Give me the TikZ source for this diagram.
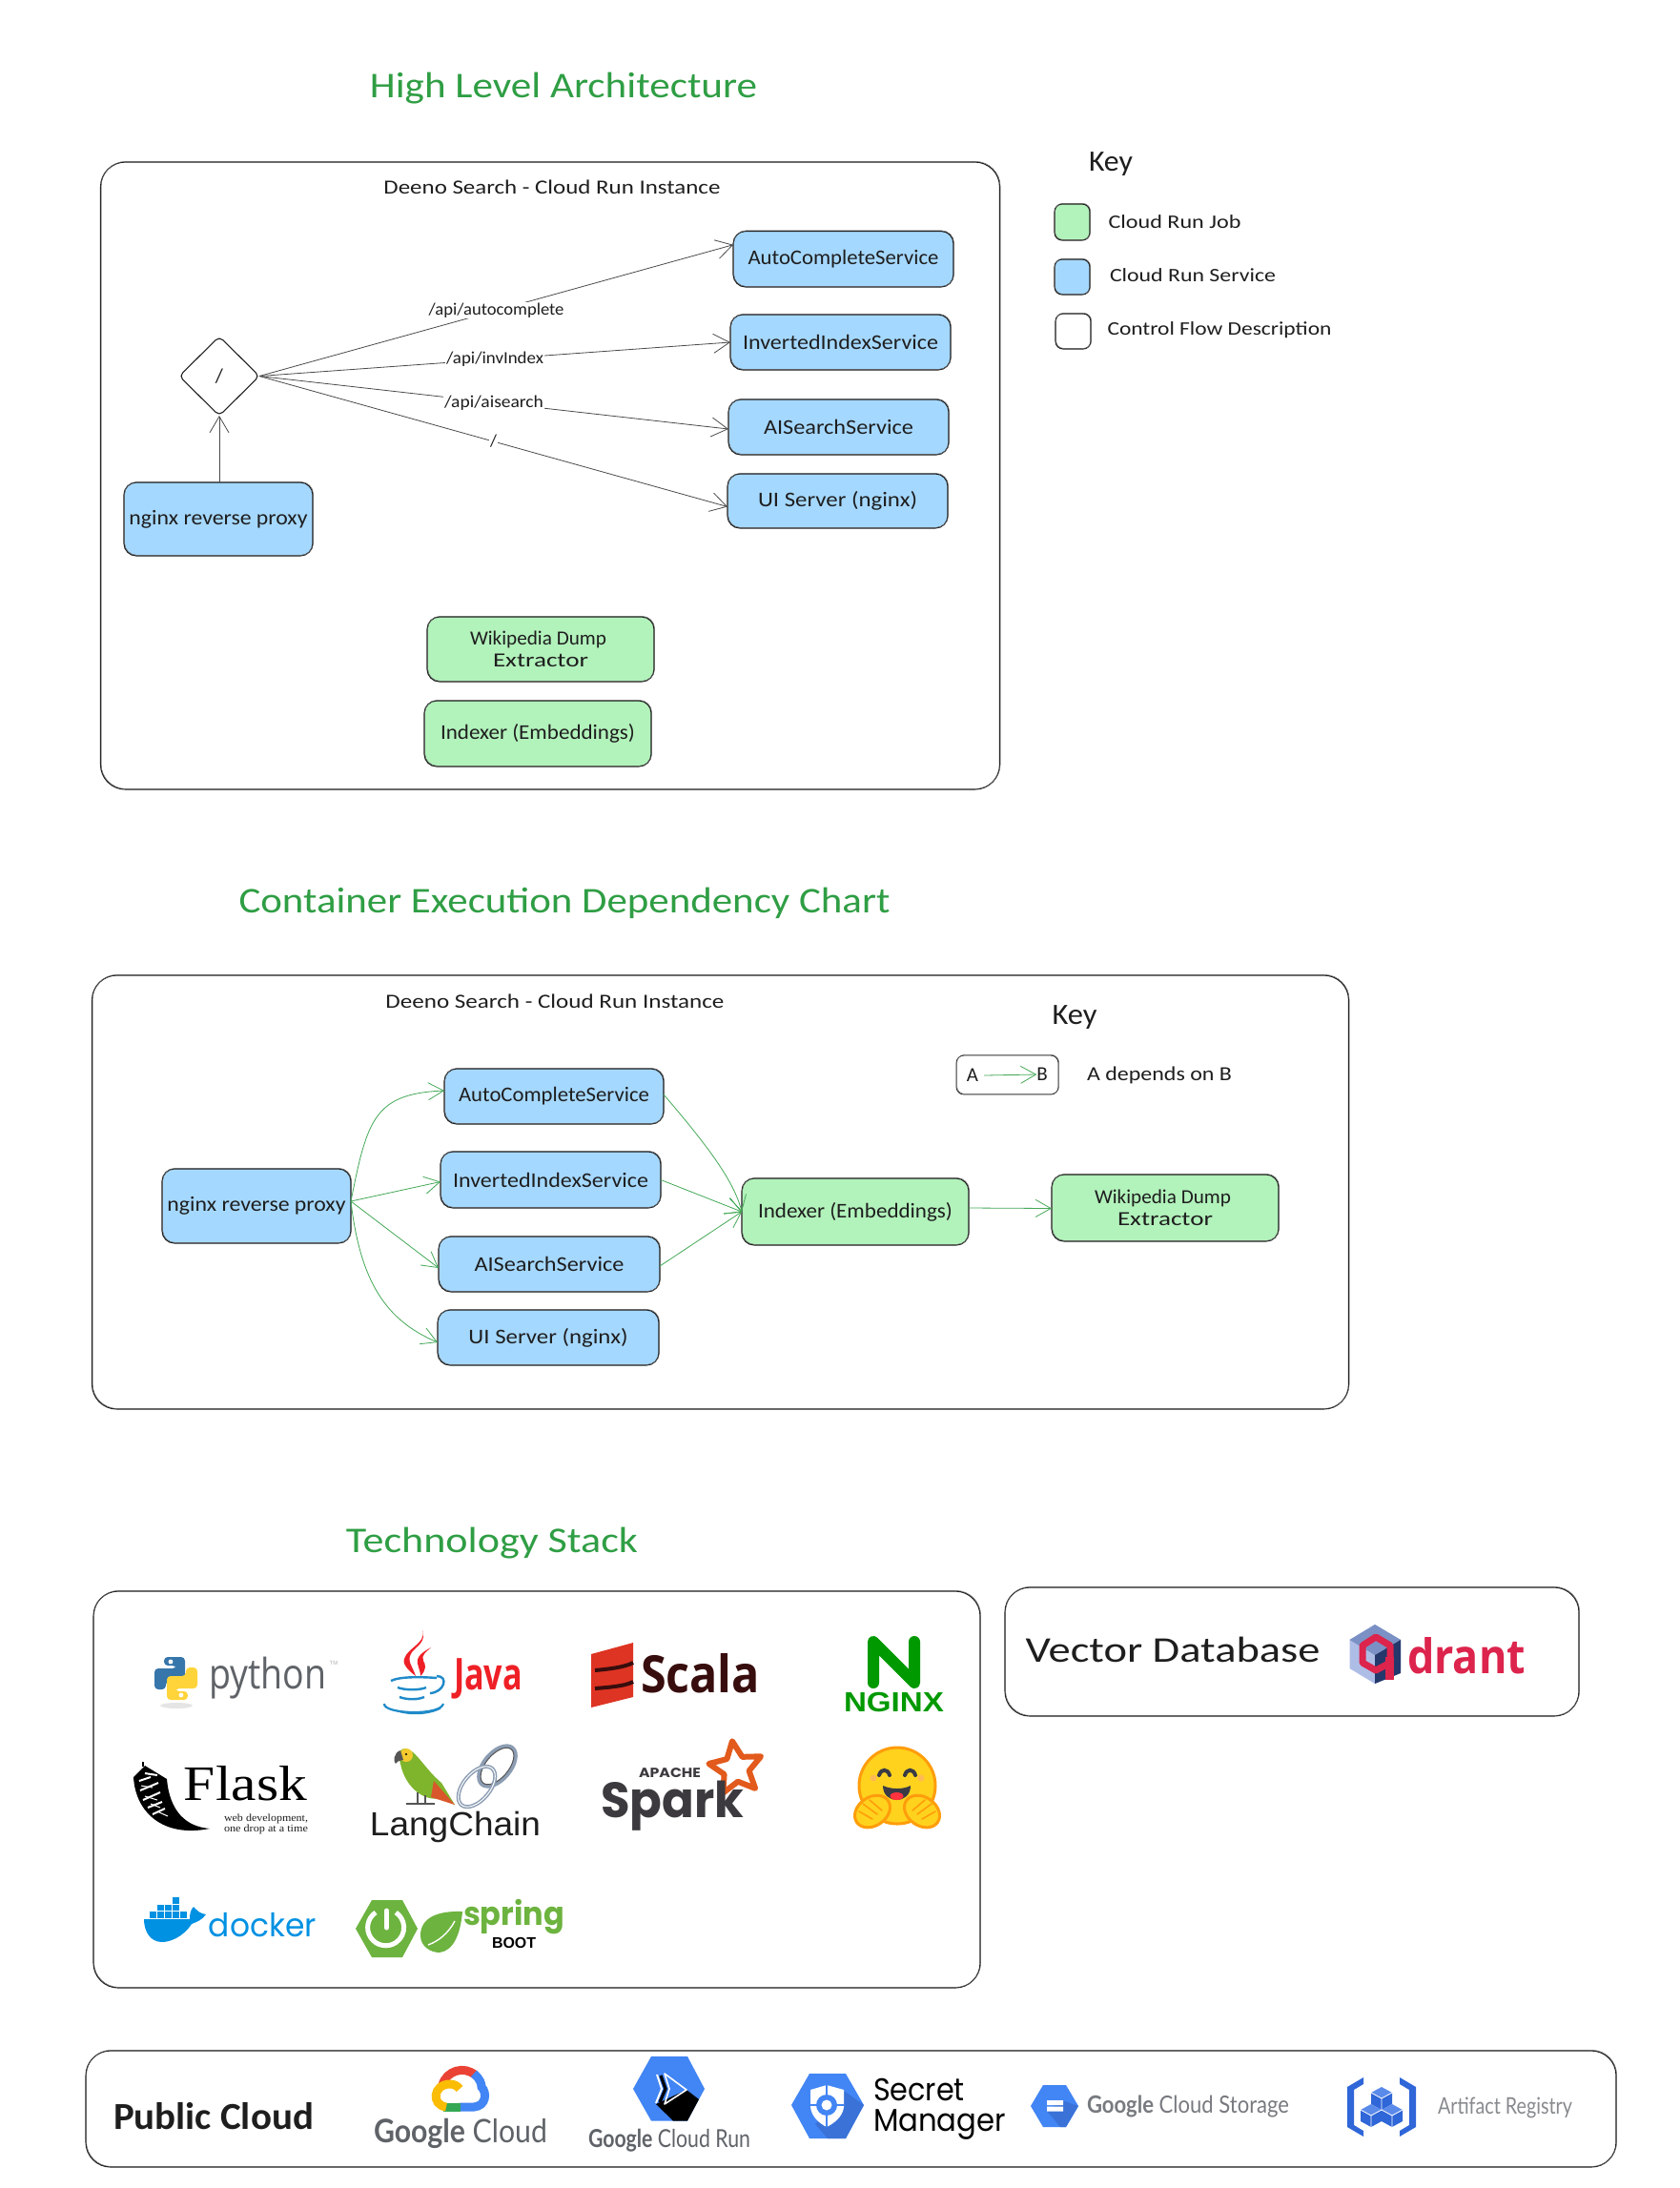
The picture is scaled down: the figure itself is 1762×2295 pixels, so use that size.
\documentclass[tikz,border=0pt]{standalone}
\usepackage{fontspec}
\usepackage{graphicx}
\usetikzlibrary{arrows.meta,shapes.geometric,calc}
\setmainfont{Carlito}
\newfontfamily\serifF{Liberation Serif}
\newfontfamily\popF{Poppins}
\newfontfamily\openF{Open Sans}
\newfontfamily\latoF{Lato}
\newfontfamily\sansF{Liberation Sans}
\definecolor{ink}{HTML}{1E1E1E}
\definecolor{svcblue}{HTML}{A5D8FF}
\definecolor{jobgreen}{HTML}{B2F2BB}
\definecolor{ttl}{HTML}{2F9E44}
\definecolor{gblue}{HTML}{4285F4}
\definecolor{gdark}{HTML}{3A72D8}
\definecolor{ggray}{HTML}{5F6368}
\definecolor{pyb}{HTML}{3776AB}
\definecolor{pyy}{HTML}{FFD43B}
\definecolor{jr}{HTML}{EE2026}
\definecolor{jb}{HTML}{1F8AC9}
\definecolor{sr}{HTML}{DE3423}
\definecolor{sd}{HTML}{380D0D}
\definecolor{ng}{HTML}{009900}
\definecolor{pg}{HTML}{7FB52C}
\definecolor{ptail}{HTML}{D9582B}
\definecolor{phead}{HTML}{F2C92E}
\definecolor{pdark}{HTML}{555555}
\definecolor{rg}{HTML}{8C9DB3}
\definecolor{sg}{HTML}{3C3A3E}
\definecolor{so}{HTML}{E25A1C}
\definecolor{hy}{HTML}{FFD21E}
\definecolor{ho}{HTML}{FF9D0B}
\definecolor{hd}{HTML}{3A3B45}
\definecolor{hr}{HTML}{FF323D}
\definecolor{dk}{HTML}{0091E2}
\definecolor{sp}{HTML}{6DB33F}
\definecolor{qlt}{HTML}{AEBDE6}
\definecolor{qmd}{HTML}{7B91C5}
\definecolor{qdk}{HTML}{24386C}
\definecolor{qrd}{HTML}{DC244C}
\definecolor{gr}{HTML}{EA4335}
\definecolor{gg}{HTML}{34A853}
\definecolor{gy}{HTML}{FBBC04}
\definecolor{ar}{HTML}{2F66D8}
\definecolor{arl}{HTML}{5B8BEA}
\newcommand\myfs[1]{\fontsize{#1}{#1}\selectfont}
\newcommand\tw[2]{\resizebox{#1pt}{\height}{#2}}
\newcommand\bx[7]{\pgfmathsetmacro\bxw{#4-(#2)}\pgfmathsetmacro\bxh{#5-(#3)}%
 \node[#6,minimum width=\bxw pt,minimum height=\bxh pt] (#1) at ({(#2+#4)/2},{(#3+#5)/2}) {#7};}
\newcommand\tx[6]{\node[txt] (#1) at (#2,#3) {#5\tw{#4}{#6}};}
\tikzset{
 txt/.style={inner sep=0,outer sep=0,text=ink,align=center},
 sk/.style={draw=ink,line width=1.1pt,inner sep=0,outer sep=0,align=center,text=ink,
   postaction={draw=ink!70,line width=.5pt,transform canvas={shift={(.6pt,.6pt)}}}},
 outerbox/.style={sk,rounded corners=26pt},
 svc/.style={sk,fill=svcblue,rounded corners=13pt},
 job/.style={sk,fill=jobgreen,rounded corners=13pt},
 swatch/.style={sk,rounded corners=8pt},
 gconn/.style={draw=ink!80,line width=.8pt,-{Straight Barb[length=17pt,width=20pt,line width=.8pt]}},
 tconn/.style={draw=ttl!90,line width=.8pt,-{Straight Barb[length=16pt,width=18pt,line width=.8pt]}},
 lab/.style={fill=white,inner sep=1pt,text=ink},
}
\begin{document}
\begin{tikzpicture}[x=1pt,y=-1pt]
\useasboundingbox (0,0) rectangle (1762,2295);
\fill[white] (0,0) rectangle (1762,2295);
% ---------- High level architecture
\node[txt,text=ttl] (t1) at (591,92.5) {\myfs{38}\tw{406}{High Level Architecture}};
\bx{outer1}{105.5}{170}{1048.5}{828}{outerbox}{}
\tx{dn1}{579}{196}{353}{\myfs{21}}{Deeno Search - Cloud Run Instance}
\bx{a1}{769}{242.5}{1000}{301}{svc}{\myfs{22}\tw{200}{AutoCompleteService}}
\bx{a2}{766}{330}{997}{388}{svc}{\myfs{22}\tw{205}{InvertedIndexService}}
\bx{a3}{764}{419}{995}{477}{svc}{\myfs{22}\tw{157}{AISearchService}}
\bx{a4}{763}{497}{994}{554}{svc}{\myfs{22}\tw{167}{UI Server (nginx)}}
\bx{n1}{130}{506}{328}{583}{svc}{\myfs{22}\tw{187}{nginx reverse proxy}}
\node[draw=ink,line width=1.1pt,diamond,aspect=1,inner sep=0,outer sep=0,minimum width=84pt,minimum height=83pt,rounded corners=5pt,text=ink] (dia) at (230,394.5) {\myfs{21}/};
\bx{w1}{448}{647}{686}{715}{job}{\myfs{21}\hspace{-5pt}\tw{143}{Wikipedia Dump}\\[5pt]\myfs{21}\tw{100}{Extractor}}
\bx{x1}{445}{735}{683}{804}{job}{\myfs{22}\tw{204}{Indexer (Embeddings)}}
\draw[gconn] (n1.north -| dia.south) -- (dia.south);
\draw[gconn] (dia.east) -- node[lab,pos=.5] (l1) {\myfs{18}\tw{142}{/api/autocomplete}} ([yshift=15pt]a1.west);
\draw[gconn] (dia.east) -- node[lab,pos=.5] (l2) {\myfs{18}\tw{102}{/api/invIndex}} (a2.west);
\draw[gconn] (dia.east) -- node[lab,pos=.5] (l3) {\myfs{18}\tw{104}{/api/aisearch}} ([yshift=-2pt]a3.west);
\draw[gconn] (dia.east) -- node[lab,pos=.5] (l4) {\myfs{18}/} ([yshift=-6pt]a4.west);
% key 1
\tx{k1}{1165}{172}{46}{\myfs{31}}{Key}
\bx{s1}{1106}{214}{1143}{252}{swatch,fill=jobgreen}{}
\bx{s2}{1106}{272}{1143}{309}{swatch,fill=svcblue}{}
\bx{s3}{1107}{329}{1144}{366}{swatch,fill=white}{}
\tx{st1}{1232}{233}{139}{\myfs{20}}{Cloud Run Job}
\tx{st2}{1251}{289}{174}{\myfs{20}}{Cloud Run Service}
\tx{st3}{1279}{346}{235}{\myfs{20}}{Control Flow Description}
% ---------- Dependency chart
\node[txt,text=ttl] (t2) at (592,947) {\myfs{38}\tw{683}{Container Execution Dependency Chart}};
\bx{outer2}{96.5}{1023}{1414.5}{1478}{outerbox}{}
\tx{dn2}{582}{1050}{355}{\myfs{21}}{Deeno Search - Cloud Run Instance}
\tx{k2}{1127}{1067}{47}{\myfs{31}}{Key}
\bx{kbox}{1003}{1107}{1110}{1148}{swatch,fill=white,line width=.8pt}{}
\node[txt] (kA) at (1020,1128) {\myfs{21}A};
\node[txt] (kB) at (1093,1127) {\myfs{21}B};
\draw[tconn] ([xshift=6pt]kA.east) -- (kB.west);
\tx{kd}{1216}{1128}{152}{\myfs{21}}{A depends on B}
\bx{b1}{466}{1121}{696}{1179}{svc}{\myfs{22}\tw{200}{AutoCompleteService}}
\bx{b2}{462}{1208}{693}{1267}{svc}{\myfs{22}\tw{205}{InvertedIndexService}}
\bx{b3}{460}{1297}{692}{1355}{svc}{\myfs{22}\tw{157}{AISearchService}}
\bx{b4}{459}{1374}{691}{1432}{svc}{\myfs{22}\tw{167}{UI Server (nginx)}}
\bx{n2}{170}{1226}{368}{1304}{svc}{\myfs{22}\tw{187}{nginx reverse proxy}}
\bx{c2}{778}{1236}{1016}{1306}{job}{\myfs{22}\tw{204}{Indexer (Embeddings)}}
\bx{w2}{1103}{1232}{1341}{1302}{job}{\myfs{21}\hspace{-5pt}\tw{143}{Wikipedia Dump}\\[5pt]\myfs{21}\tw{100}{Extractor}}
\draw[tconn] ([yshift=5pt]n2.east) .. controls (385,1175) and (392,1147) .. ([yshift=6pt]b1.west);
\draw[tconn] ([yshift=5pt]n2.east) -- ([yshift=-2pt]b2.west);
\draw[tconn] ([yshift=5pt]n2.east) -- ([yshift=-4pt]b3.west);
\draw[tconn] ([yshift=5pt]n2.east) .. controls (378,1345) and (405,1385) .. ([yshift=-5pt]b4.west);
\draw[tconn] ([yshift=2pt]b1.east) .. controls (745,1205) and (770,1240) .. (c2.west);
\draw[tconn] ([yshift=0pt]b2.east) -- (c2.west);
\draw[tconn] ([yshift=-2pt]b3.east) -- (c2.west);
\draw[tconn] ([yshift=4pt]c2.east) -- ([yshift=-.5pt]w2.west);
% ---------- Technology stack
\node[txt,text=ttl] (t3) at (516,1619) {\myfs{38}\tw{306}{Technology Stack}};
\bx{outer3}{98}{1669}{1028}{2085}{outerbox}{}
% python
\fill[black!10] (185,1789) ellipse (17 and 3);
\fill[pyb,rounded corners=4pt] (172,1738) -- (194,1738) -- (194,1763) -- (174,1763) -- (174,1772) -- (162,1772) -- (162,1750) -- (185,1750) -- (185,1747) -- (172,1747) -- cycle;
\fill[pyy,rounded corners=4pt] (197,1783) -- (175,1783) -- (175,1758) -- (195,1758) -- (195,1749) -- (207,1749) -- (207,1771) -- (184,1771) -- (184,1774) -- (197,1774) -- cycle;
\fill[white] (179,1743) circle (2.4) (190,1778) circle (2.4);
\node[txt,text=ggray] (pyt) at (280.5,1760) {\myfs{44}\openF\tw{123}{python}};
\node[txt,text=black!30] (pytm) at (350,1744) {\myfs{6}\sansF TM};
% java
\fill[jr] (443,1710) .. controls (449,1724) and (420,1731) .. (424,1745) .. controls (426,1750) and (431,1754) .. (436,1758) .. controls (432,1746) and (426,1742) .. (432,1733) .. controls (438,1726) and (447,1722) .. (443,1710) -- cycle;
\fill[jr] (452,1728) .. controls (445,1732) and (436,1737) .. (438,1745) .. controls (439,1750) and (441,1753) .. (441,1758) .. controls (447,1752) and (447,1746) .. (444,1742) .. controls (441,1736) and (448,1732) .. (452,1728) -- cycle;
\draw[jb,line width=2.4pt] (410,1763) .. controls (420,1758) and (445,1759) .. (458,1760);
\draw[jb,line width=2.4pt] (417,1770) .. controls (425,1773) and (440,1773) .. (447,1770);
\draw[jb,line width=2.4pt] (419,1780) .. controls (427,1783) and (438,1783) .. (445,1780);
\draw[jb,line width=2.2pt] (403,1787) .. controls (402,1798) and (462,1800) .. (465,1787);
\draw[jb,line width=1.4pt] (415,1794) .. controls (428,1799) and (448,1799) .. (462,1792);
\draw[jb,line width=2.4pt] (458,1758) .. controls (471,1758) and (466,1775) .. (451,1776);
\node[txt,text=jr] (jv) at (512,1761) {\myfs{46}\bfseries\openF\tw{72}{Java}};
% scala
\fill[sr] (620,1735) -- (664,1723) -- (664,1780) -- (620,1791) -- cycle;
\draw[sd,line width=4pt] (624,1752) .. controls (635,1751) and (655,1749) .. (664,1744);
\draw[sd,line width=4pt] (624,1771) .. controls (635,1770) and (655,1769) .. (664,1764);
\node[txt,text=sd] (sc) at (734.5,1755) {\myfs{54}\bfseries\openF\tw{125}{Scala}};
% nginx
\draw[ng,line width=12pt,line cap=round,line join=round] (916,1765) -- (916,1722) -- (959,1765) -- (959,1722);
\node[txt,text=ng] (ngt) at (937.5,1785.5) {\myfs{29}\bfseries\sansF\tw{105}{NGINX}};
% flask
\fill[black] (140,1864) .. controls (142,1900) and (170,1928) .. (220,1918) .. controls (195,1916) and (178,1900) .. (175,1866) -- (152,1852) -- cycle;
\draw[white,line width=2pt] (146,1868) -- (158,1864) (147,1878) -- (166,1870) (150,1888) -- (168,1880) (155,1896) -- (170,1890) (160,1903) -- (173,1897) (152,1860) -- (165,1862);
\draw[white,line width=1pt] (148,1873) -- (160,1875) (152,1884) -- (165,1888) (158,1892) -- (168,1896) (165,1900) -- (176,1905);
\draw[black,line width=1.2pt] (150,1853) -- (150,1848);
\node[txt,text=black] (flt) at (257.5,1871) {\myfs{52}\serifF\tw{129}{Flask}};
\node[txt,text=ink] (fl1) at (279,1908) {\myfs{11}\serifF\tw{88}{web development,}};
\node[txt,text=ink] (fl2) at (279,1919) {\myfs{11}\serifF\tw{88}{one drop at a time}};
% langchain
\fill[pg] (425,1834) .. controls (436,1835) and (445,1855) .. (463,1870) -- (477,1893) -- (462,1886) .. controls (445,1890) and (425,1875) .. (420,1850) .. controls (416,1838) and (420,1834) .. (425,1834) -- cycle;
\fill[ptail] (455,1868) -- (477,1893) -- (452,1885) -- cycle;
\fill[phead] (426,1841) circle (7);
\fill[black] (426,1840) circle (1.2);
\fill[pdark] (420,1836) .. controls (413,1838) and (412,1848) .. (415,1850) .. controls (417,1847) and (420,1846) .. (423,1846) -- cycle;
\draw[pdark,line width=1.4pt] (438,1880) -- (438,1892) (446,1883) -- (446,1892) (426,1892) -- (456,1892);
\draw[rg,line width=4pt,rotate around={-40:(521.5,1852.5)}] (521.5,1852.5) ellipse (14 and 25);
\draw[pdark,line width=1pt,rotate around={-40:(521.5,1852.5)}] (521.5,1852.5) ellipse (12 and 23);
\draw[rg,line width=4pt,rotate around={-40:(500,1874)}] (500,1874) ellipse (14 and 25);
\draw[white,line width=1pt,rotate around={-40:(500,1874)}] (500,1874) ellipse (14 and 25);
\node[txt,text=ink] (lc) at (477.5,1916) {\myfs{35}\sansF\tw{179}{LangChain}};
% spark
\node[star,star points=5,star point ratio=2.1,draw=so,line width=6pt,fill=white,minimum size=58pt,inner sep=0,rotate=8,line join=round] (star) at (772,1855) {};
\node[txt,text=sg] (spk) at (705,1894) {\myfs{52}\bfseries\popF\tw{150}{Spark}};
\node[txt,text=sg] (apc) at (702.5,1860) {\myfs{14}\bfseries\popF\tw{65}{APACHE}};
% hugging face
\draw[ho,fill=hy,line width=3pt] (941,1873) circle (40);
\draw[hd,line width=4pt,line cap=round] (922,1862) .. controls (924,1855) and (931,1855) .. (933,1862);
\draw[hd,line width=4pt,line cap=round] (949,1862) .. controls (951,1855) and (958,1855) .. (960,1862);
\fill[ho!70] (916,1865) circle (3.5) (966,1865) circle (3.5);
\fill[hd] (926,1873) .. controls (935,1877) and (947,1877) .. (955,1873) .. controls (955,1893) and (926,1893) .. (926,1873) -- cycle;
\fill[hr] (940.5,1884) ellipse (7 and 4);
\draw[ho,fill=hy,line width=3pt,rotate around={35:(915,1900)}] (915,1900) ellipse (20 and 15);
\draw[ho,fill=hy,line width=3pt,rotate around={-35:(967,1900)}] (967,1900) ellipse (20 and 15);
\draw[ho,line width=1.6pt,line cap=round] (901,1900) -- (915,1908) (905,1892) -- (920,1903) (912,1888) -- (925,1899) (981,1900) -- (967,1908) (977,1892) -- (962,1903) (970,1888) -- (957,1899);
% docker
\fill[dk] (151,2013) -- (199,2013) .. controls (199,2007) and (200,2003) .. (203,2000) .. controls (207,2004) and (209,2007) .. (216,2008) .. controls (212,2014) and (206,2016) .. (201,2018) .. controls (192,2032) and (178,2037) .. (170,2037) .. controls (157,2037) and (151,2025) .. (151,2013) -- cycle;
\foreach \bxx in {157,165,173,181,189}{\fill[dk] (\bxx,2005) rectangle +(6.6,6.6);}
\foreach \bxx in {165,173,181}{\fill[dk] (\bxx,1997.5) rectangle +(6.6,6.6);}
\fill[dk] (181,1990) rectangle +(6.6,6.6);
\node[txt,text=dk] (dkt) at (275.5,2019) {\myfs{34}\popF\tw{113}{docker}};
% spring boot
\fill[sp] (390,1993) -- (422,1993) -- (438,2023) -- (422,2053) -- (390,2053) -- (373,2023) -- cycle;
\draw[white,line width=5pt] (394,2006) arc[start angle=236,end angle=-56,radius=19];
\draw[white,line width=5pt,line cap=round] (405.5,2004) -- (405.5,2022);
\fill[sp] (485,2005) .. controls (458,2004) and (441,2012) .. (441,2030) .. controls (441,2042) and (452,2048) .. (461,2048) .. controls (476,2046) and (483,2028) .. (485,2005) -- cycle;
\draw[white,line width=1.4pt] (449,2040) .. controls (460,2036) and (470,2028) .. (477,2015);
\node[txt,text=sp] (spr) at (539,2011) {\myfs{34}\bfseries\popF\tw{106}{spring}};
\node[txt,text=black] (bt) at (539,2037.5) {\myfs{16}\bfseries\sansF\tw{46}{BOOT}};
% ---------- Vector DB
\bx{outer4}{1054}{1665}{1656}{1800}{outerbox}{}
\tx{vd}{1230}{1730}{309}{\myfs{38}}{Vector Database}
\fill[qlt] (1442,1704) -- (1469,1720) -- (1469,1750) -- (1442,1766) -- (1415.5,1750) -- (1415.5,1720) -- cycle;
\fill[qmd] (1442,1704) -- (1469,1720) -- (1442,1736) -- (1415.5,1720) -- cycle;
\fill[qdk] (1469,1720) -- (1469,1755) -- (1442,1766) -- (1442,1736) -- cycle;
\draw[qrd,line width=7pt,line join=round] (1443,1717) -- (1458,1726) -- (1458,1744) -- (1443,1752) -- (1429,1744) -- (1429,1726) -- cycle;
\fill[qrd] (1453,1738) rectangle (1462,1762);
\fill[qmd] (1434,1730) -- (1443,1725) -- (1452,1730) -- (1443,1735) -- cycle;
\node[txt,text=qrd] (qt) at (1538,1737) {\myfs{50}\bfseries\openF\tw{124}{drant}};
% ---------- Public cloud
\bx{outer5}{90}{2151}{1695}{2273}{outerbox}{}
\tx{pc}{224}{2220}{210}{\myfs{40}\bfseries}{Public Cloud}
% google cloud
\draw[gr,line width=9pt] (464,2187) .. controls (468,2172) and (487,2166) .. (499,2177);
\draw[gblue,line width=9pt] (497,2175) .. controls (504,2181) and (505,2186) .. (505,2189) .. controls (511,2195) and (510,2209) .. (497,2210) -- (482,2210);
\draw[gg,line width=9pt] (483,2210) -- (465,2210);
\draw[gy,line width=9pt] (468,2210) .. controls (452,2208) and (454,2186) .. (472,2186) .. controls (476,2186) and (480,2188) .. (482,2191);
\node[txt,text=ggray] (gc) at (483,2238) {\myfs{34}\latoF\tw{182}{\textbf{Google} Cloud}};
% cloud run
\fill[gblue] (683,2157) -- (721,2157) -- (739,2191) -- (721,2224.5) -- (683,2224.5) -- (664,2191) -- cycle;
\fill[black] (688,2207) -- (720,2192) -- (733,2202) -- (721,2224.5) -- (706,2224.5) -- cycle;
\draw[white,line width=2pt] (689,2176) -- (694,2191) -- (688,2206);
\draw[black,line width=3.2pt] (693,2177) -- (698,2191) -- (692,2205);
\draw[white,line width=1.6pt,line join=round] (697,2175) -- (720,2192) -- (697,2207) -- (702,2191) -- cycle;
\node[txt,text=ggray] (gr1) at (702,2245) {\myfs{26}\latoF\tw{170}{\textbf{Google} Cloud Run}};
% secret manager
\fill[gblue] (849,2175) -- (887,2175) -- (906,2208) -- (887,2243) -- (849,2243) -- (830,2208) -- cycle;
\fill[gdark] (885,2193) -- (906,2208) -- (887,2243) -- (868,2243) -- (855,2228) -- cycle;
\fill[white] (867,2187) -- (885,2192) -- (885,2210) .. controls (884,2220) and (875,2227) .. (867,2231) .. controls (859,2227) and (851,2220) .. (850,2210) -- (850,2192) -- cycle;
\draw[gblue,line width=2pt] (867,2187) -- (867,2231) (850,2208) -- (885,2208);
\fill[gblue] (867,2208) circle (11);
\fill[white] (867,2208) circle (5.5);
\node[txt,text=black] (sm1) at (964,2192) {\myfs{33}\popF\tw{96}{Secret}};
\node[txt,text=black] (sm2) at (985.5,2229) {\myfs{33}\popF\tw{139}{Manager}};
% cloud storage
\fill[gblue] (1094,2187) -- (1118,2187) -- (1131,2209) -- (1118,2231) -- (1094,2231) -- (1081,2209) -- cycle;
\fill[gdark] (1114,2203) -- (1131,2209) -- (1118,2231) -- (1112,2231) -- (1098,2214) -- cycle;
\fill[white] (1098,2203) rectangle (1115,2208) (1098,2209.5) rectangle (1115,2214.5);
\node[txt,text=ggray!85] (gs) at (1246,2209) {\myfs{25}\latoF\tw{212}{\textbf{Google} Cloud Storage}};
% artifact registry
\fill[ar] (1430,2179) -- (1430,2186) -- (1420,2192) -- (1420,2229) -- (1430,2235) -- (1430,2241) -- (1413,2231) -- (1413,2189) -- cycle;
\fill[ar] (1468,2179) -- (1468,2186) -- (1478,2192) -- (1478,2229) -- (1468,2235) -- (1468,2241) -- (1485,2231) -- (1485,2189) -- cycle;
\foreach \cx/\cy in {1449/2201,1438/2219,1460/2219}{
 \fill[ar] (\cx-11,\cy-6) -- (\cx,\cy) -- (\cx+11,\cy-6) -- (\cx+11,\cy+6) -- (\cx,\cy+12) -- (\cx-11,\cy+6) -- cycle;
 \fill[arl] (\cx-11,\cy-6) -- (\cx,\cy-12) -- (\cx+11,\cy-6) -- (\cx,\cy) -- cycle;
 \draw[white,line width=.8pt] (\cx-11,\cy-6) -- (\cx,\cy) -- (\cx+11,\cy-6) (\cx,\cy) -- (\cx,\cy+12);
}
\node[txt,text=ggray!75] (ga) at (1578.5,2211) {\myfs{24}\latoF\tw{141}{Artifact Registry}};
\end{tikzpicture}
\end{document}
